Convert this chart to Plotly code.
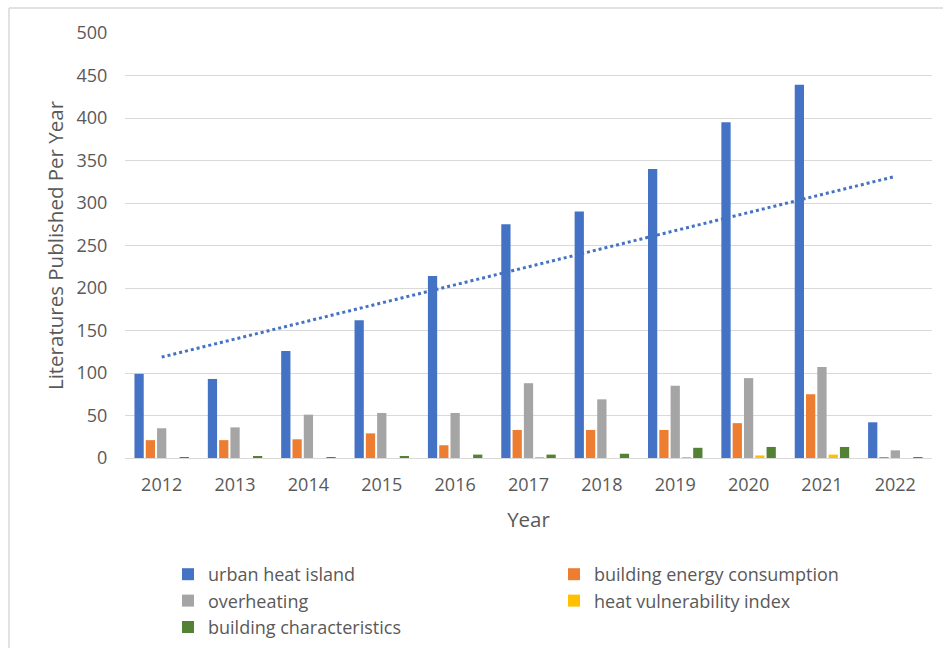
import numpy as np
import plotly.graph_objects as go

years = ["2012", "2013", "2014", "2015", "2016", "2017", "2018", "2019", "2020", "2021", "2022"]
urban_heat_island = [99, 93, 126, 162, 214, 275, 290, 340, 395, 439, 42]
building_energy = [21, 21, 22, 29, 15, 33, 33, 33, 41, 75, 1]
overheating = [35, 36, 51, 53, 53, 88, 69, 85, 94, 107, 9]
heat_vulnerability = [0, 0, 0, 0, 0, 1, 0, 1, 3, 4, 0]
building_characteristics = [1, 2, 1, 2, 4, 4, 5, 12, 13, 13, 1]

y_ticks = [0, 50, 100, 150, 200, 250, 300, 350, 400, 450, 500]

FONT = "Open Sans"
GRAY_TXT = "#595959"

series = [
    ("urban heat island", urban_heat_island, "#4472C4", "legend"),
    ("building energy consumption", building_energy, "#ED7D31", "legend2"),
    ("overheating", overheating, "#A5A5A5", "legend"),
    ("heat vulnerability index", heat_vulnerability, "#FFC000", "legend2"),
    ("building characteristics", building_characteristics, "#548235", "legend"),
]

fig = go.Figure()
for name, vals, color, lg in series:
    fig.add_trace(go.Bar(x=years, y=vals, name=name, marker_color=color,
                         marker_line_width=0, legend=lg))

# linear trendline of urban heat island (Excel-style)
xi = np.arange(1, len(years) + 1)
slope, intercept = np.polyfit(xi, urban_heat_island, 1)
trend = slope * xi + intercept
fig.add_trace(go.Scatter(x=years, y=trend, mode="lines", showlegend=False,
                         line=dict(color="#4472C4", width=3, dash="dot"),
                         hoverinfo="skip"))

L, R, T, B = 125, 11, 33, 190
PW, PH = 943 - L - R, 648 - T - B

def px_to_paper_x(px):
    return (px - L) / PW

def px_to_paper_y(py):
    return (648 - B - py) / PH

fig.update_layout(
    width=943, height=648,
    margin=dict(l=L, r=R, t=T, b=B, autoexpand=False),
    paper_bgcolor="white", plot_bgcolor="white",
    barmode="group", bargap=0.23, bargroupgap=0.18,
    font=dict(family=FONT, color=GRAY_TXT, size=18),
    xaxis=dict(
        type="category", showgrid=False, showline=True, linecolor="#D9D9D9", linewidth=1,
        ticks="outside", ticklen=10, tickcolor="rgba(0,0,0,0)",
        tickfont=dict(size=18, color=GRAY_TXT),
        title=dict(text="Year", font=dict(size=20.5, color=GRAY_TXT), standoff=18),
    ),
    yaxis=dict(
        range=[0, 500], tickvals=y_ticks, showgrid=True, gridcolor="#D9D9D9", gridwidth=1,
        zeroline=False, showline=False,
        ticks="outside", ticklen=13, tickcolor="rgba(0,0,0,0)",
        tickfont=dict(size=18, color=GRAY_TXT),
        title=dict(text="Literatures Published Per Year", font=dict(size=20.5, color=GRAY_TXT), standoff=7),
    ),
    legend=dict(x=px_to_paper_x(168), xanchor="left", y=px_to_paper_y(556), yanchor="top",
                orientation="v", font=dict(size=18, color=GRAY_TXT), itemwidth=30,
                bgcolor="rgba(0,0,0,0)"),
    legend2=dict(x=px_to_paper_x(554), xanchor="left", y=px_to_paper_y(556), yanchor="top",
                 orientation="v", font=dict(size=18, color=GRAY_TXT), itemwidth=30,
                 bgcolor="rgba(0,0,0,0)"),
    showlegend=True,
)

# chart-area border (top and left edges visible in the reference)
fig.add_shape(type="line", xref="paper", yref="paper",
              x0=px_to_paper_x(9), x1=px_to_paper_x(943), y0=px_to_paper_y(8), y1=px_to_paper_y(8),
              line=dict(color="#D9D9D9", width=1.5))
fig.add_shape(type="line", xref="paper", yref="paper",
              x0=px_to_paper_x(9), x1=px_to_paper_x(9), y0=px_to_paper_y(8), y1=px_to_paper_y(648),
              line=dict(color="#D9D9D9", width=1.5))

fig.write_html("out.html")
